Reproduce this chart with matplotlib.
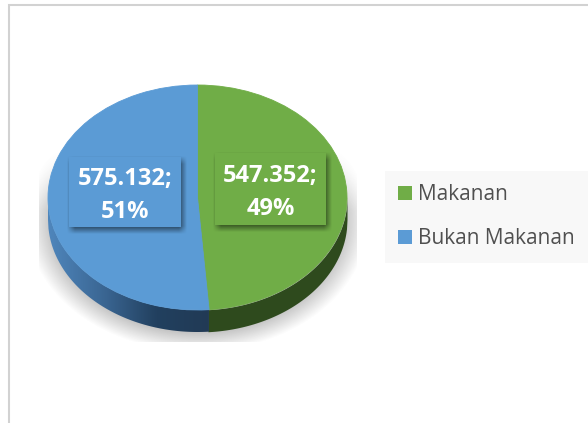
import matplotlib
matplotlib.use("Agg")
import matplotlib.pyplot as plt
import numpy as np
from matplotlib.colors import LinearSegmentedColormap
from matplotlib.patches import Patch, Rectangle
from matplotlib.transforms import Affine2D

categories = ["Makanan", "Bukan Makanan"]
values = [547352, 575132]
colors = ["#70AD47", "#5B9BD5"]
side_green = "#2E4A1D"
side_blue = ["#4F86BC", "#3B6794", "#22405F", "#213A55"]

W, H = 588, 423
cx, cy, rx, ry = 197.5, 197.5, 149.5, 112.5
depth = 22

# label boxes in pixels: left, top, right, bottom
label_boxes = [(215, 153, 326, 225), (69, 157, 181, 227)]

fig = plt.figure(figsize=(W / 100, H / 100), dpi=100)
ax = fig.add_axes([0, 0, 1, 1])


def flip(y):
    return H - y


def box_shadow(box, dx=2, dy=3, blur=8):
    # blurred dark rectangle drawn behind a label box
    l, t, r, b = box
    x = np.arange(l - 10, r + 14)
    y = np.arange(t - 10, b + 14)
    gx, gy = np.meshgrid(x + 0.5, y + 0.5)
    ramp_x = np.clip((gx - (l + dx - blur / 2)) / blur, 0, 1) * np.clip(((r + dx + blur / 2) - gx) / blur, 0, 1)
    ramp_y = np.clip((gy - (t + dy - blur / 2)) / blur, 0, 1) * np.clip(((b + dy + blur / 2) - gy) / blur, 0, 1)
    img = np.zeros(gx.shape + (4,))
    img[..., 3] = ramp_x * ramp_y * 0.55
    ax.imshow(img, extent=(x[0], x[-1] + 1, flip(y[-1] + 1), flip(y[0])), origin="upper",
              aspect="auto", zorder=6, interpolation="bilinear")


# chart border, only top and left are visible
ax.plot([9, 9, W], [flip(H), flip(5), flip(5)], color="#D2D2D2", lw=1.5,
        solid_joinstyle="miter", zorder=1)

# soft shadow under the pie, cut off by its own box
sx = np.arange(39, 357)
sy = np.arange(150, 342)
gx, gy = np.meshgrid(sx + 0.5, sy + 0.5)
dist = np.sqrt(((gx - cx) / (rx + 9)) ** 2 + ((gy - (cy + depth + 1)) / (ry + 9)) ** 2)
alpha = np.clip((1.08 - dist) / 0.16, 0, 1) * 0.42
alpha *= np.clip((gy - 150) / 60, 0, 1)
shadow = np.zeros(alpha.shape + (4,))
shadow[..., :3] = 0.45
shadow[..., 3] = alpha
ax.imshow(shadow, extent=(39, 357, flip(342), flip(150)), origin="upper",
          aspect="auto", zorder=2, interpolation="bilinear")

# the pie itself, squashed to an ellipse
wedges, _ = ax.pie(values, colors=colors, startangle=90, counterclock=False,
                   wedgeprops={"linewidth": 0.6})
face = Affine2D().scale(rx, ry).translate(cx, flip(cy)) + ax.transData
for w, c in zip(wedges, colors):
    w.set_transform(face)
    w.set_edgecolor(c)
    w.set_zorder(5)

# side wall of the pie, split where the first slice ends
end_angle = 2 * np.pi * values[0] / sum(values)
split = np.sin(end_angle)
xs = np.linspace(-1, 1, 601)
lower = -np.sqrt(1 - xs ** 2) * ry + flip(cy)
px = cx + xs * rx
right = xs >= split - 0.01
ax.fill_between(px[right], lower[right], lower[right] - depth, color=side_green,
                lw=0, zorder=3)
left = xs <= split
wall = ax.fill_between(px[left], lower[left], lower[left] - depth,
                       color="none", lw=0, zorder=3)
cmap = LinearSegmentedColormap.from_list("wall", side_blue)
grad = ax.imshow(np.linspace(0, 1, 256).reshape(1, -1), cmap=cmap, aspect="auto",
                 extent=(cx - rx, cx + split * rx + 1, flip(cy + ry + depth), flip(cy)),
                 zorder=3.5)
grad.set_clip_path(wall.get_paths()[0], transform=ax.transData)

# data labels with a box shadow
total = sum(values)
for val, col, box in zip(values, colors, label_boxes):
    l, t, r, b = box
    box_shadow(box)
    ax.add_patch(Rectangle((l, flip(b)), r - l, b - t, color=col, lw=0, zorder=7))
    txt = f"{val:,}".replace(",", ".") + f";\n{val / total * 100:.0f}%"
    ax.text((l + r) / 2, flip((t + b) / 2 + 3), txt, color="white", fontsize=17,
            fontweight="bold", family="Open Sans", ha="center", va="center",
            linespacing=1.5, zorder=8)

ax.set_xlim(0, W)
ax.set_ylim(0, H)
ax.set_aspect("auto")
ax.axis("off")

handles = [Patch(color=c, lw=0) for c in colors]
fig.legend(handles, categories, loc="upper left",
           bbox_to_anchor=(385 / W, 1 - 171 / H), bbox_transform=fig.transFigure,
           prop={"family": "Open Sans", "size": 15}, labelcolor="#505050",
           frameon=True, fancybox=False, facecolor="#F8F8F8", edgecolor="none",
           framealpha=1, handlelength=0.67, handleheight=0.67, handletextpad=0.29,
           labelspacing=1.1, borderpad=0.64, borderaxespad=0)

fig.savefig("out.png", dpi=100)
